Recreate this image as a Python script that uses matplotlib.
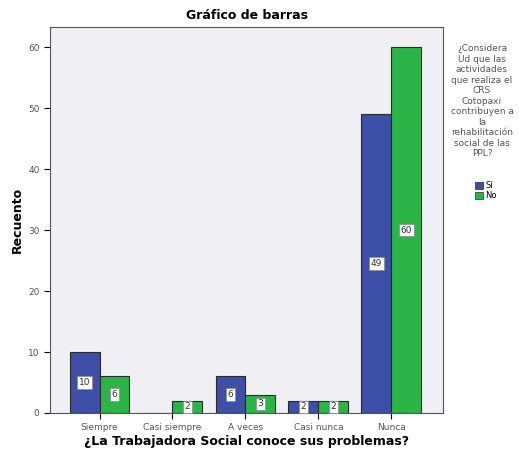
import numpy as np
import matplotlib.pyplot as plt
from matplotlib.patches import Patch

categories = ["Siempre", "Casi siempre", "A veces", "Casi nunca", "Nunca"]
si_vals = [10, 0, 6, 2, 49]
no_vals = [6, 2, 3, 2, 60]
series_names = ["Sí", "No"]
legend_title = ("¿Considera\nUd que las\nactividades\nque realiza el\nCRS\nCotopaxi\n"
                "contribuyen a\nla\nrehabilitación\nsocial de las\nPPL?")

BLUE = "#3d4fa6"
GREEN = "#2db447"

fig = plt.figure(figsize=(5.19, 4.59), dpi=100)
ax = fig.add_axes([50 / 519, 1 - 413 / 459, 393 / 519, 386 / 459])
ax.set_facecolor("#efeff4")

x = np.arange(len(categories))
w = 0.41
b1 = ax.bar(x - w / 2, si_vals, w, color=BLUE, edgecolor="#2a2a2a", linewidth=0.8)
b2 = ax.bar(x + w / 2, no_vals, w, color=GREEN, edgecolor="#2a2a2a", linewidth=0.8)

for bars, vals in ((b1, si_vals), (b2, no_vals)):
    for bar, v in zip(bars, vals):
        if v == 0:
            continue
        ax.text(bar.get_x() + bar.get_width() / 2, v / 2, str(v),
                ha="center", va="center", fontsize=6.5, color="#333333",
                bbox=dict(boxstyle="square,pad=0.2", fc="white", ec="#888888", lw=0.5))

ax.set_xlim(-0.68, 4.71)
ax.set_ylim(0, 63.3)
ax.set_yticks([0, 10, 20, 30, 40, 50, 60])
ax.set_xticks(x)
ax.set_xticklabels(categories, fontsize=6.5, color="#555555")
ax.tick_params(axis="y", labelsize=6.5, labelcolor="#555555", length=4)
ax.tick_params(axis="x", length=4)
for s in ax.spines.values():
    s.set_color("#555555")
    s.set_linewidth(0.8)

ax.set_ylabel("Recuento", fontsize=9, fontweight="bold", labelpad=3)
ax.set_xlabel("¿La Trabajadora Social conoce sus problemas?", fontsize=9,
              fontweight="bold", labelpad=2)
ax.set_title("Gráfico de barras", fontsize=9, fontweight="bold", pad=6)

fig.text(482 / 519, 1 - 44 / 459, legend_title, ha="center", va="top",
         fontsize=6.5, color="#555555", linespacing=1.22)
handles = [Patch(facecolor=BLUE, edgecolor="#2a2a2a", lw=0.5),
           Patch(facecolor=GREEN, edgecolor="#2a2a2a", lw=0.5)]
fig.legend(handles, series_names, loc="upper left", bbox_to_anchor=(471 / 519, 1 - 177 / 459),
           frameon=False, fontsize=6, handlelength=0.9, handleheight=0.9,
           handletextpad=0.3, labelspacing=0.1, borderpad=0)

fig.savefig("out.png", dpi=100)
